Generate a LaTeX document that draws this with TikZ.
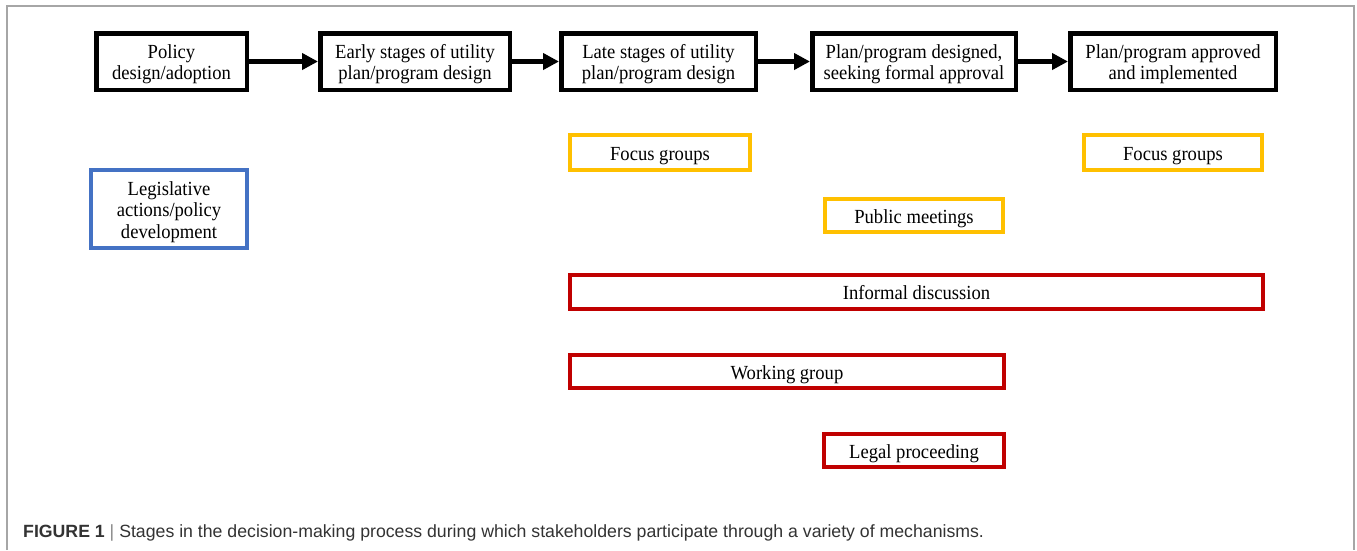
\documentclass[tikz,border=0pt]{standalone}
\usepackage{fontspec}
\setmainfont{Liberation Serif}
\newfontfamily\boxfont[FakeStretch=0.93]{Liberation Serif}
\newfontfamily\capfont{Liberation Sans}
\usetikzlibrary{arrows.meta}
\definecolor{boxyellow}{HTML}{FFC000}
\definecolor{boxred}{HTML}{C00000}
\definecolor{boxblue}{HTML}{4472C4}
\definecolor{framegrey}{HTML}{A6A6A6}
\definecolor{captext}{HTML}{333333}
\definecolor{barcol}{HTML}{888888}
\begin{document}
\begin{tikzpicture}[x=1pt,y=-1pt,
  boxtext/.style={align=center, font=\boxfont\fontsize{20}{21.5}\selectfont,
    inner sep=0pt, fill=white},
  oneline/.style={text height=20pt, text depth=4.5pt},
  twoline/.style={text height=41pt, text depth=4.5pt},
  threeline/.style={text height=62.5pt, text depth=4.5pt},
  stagebox/.style={boxtext, twoline, draw=black, line width=4.5pt},
  mechbox/.style={boxtext, line width=4pt},
  yellowbox/.style={mechbox, oneline, draw=boxyellow},
  redbox/.style={mechbox, oneline, draw=boxred},
  bluebox/.style={mechbox, threeline, draw=boxblue},
  stagearrow/.style={draw=black, line width=5pt, -{Triangle[length=16pt,width=16pt]}},
  frameline/.style={draw=framegrey, line width=1.5pt}
]
\useasboundingbox (0,0) rectangle (1357,550);
\fill[white] (0,0) rectangle (1357,550);
\draw[frameline] (7,550) -- (7,6) -- (1354,6) -- (1354,550);

% stages
\node[stagebox, minimum width=150.5pt, minimum height=56.5pt] (s1) at (171.5,61.5) {Policy\\design/adoption};
\node[stagebox, minimum width=189.5pt, minimum height=56.5pt] (s2) at (415,61.5) {Early stages of utility\\plan/program design};
\node[stagebox, minimum width=194.5pt, minimum height=56.5pt] (s3) at (658.5,61.5) {Late stages of utility\\plan/program design};
\node[stagebox, minimum width=203.5pt, minimum height=56.5pt] (s4) at (914,61.5) {Plan/program designed,\\seeking formal approval};
\node[stagebox, minimum width=205.5pt, minimum height=56.5pt] (s5) at (1173,61.5) {Plan/program approved\\and implemented};

\draw[stagearrow] (s1) -- (s2);
\draw[stagearrow] (s2) -- (s3);
\draw[stagearrow] (s3) -- (s4);
\draw[stagearrow] (s4) -- (s5);

% mechanisms
\node[yellowbox, minimum width=180pt, minimum height=35pt] (fg1) at (660,152.5) {Focus groups};
\node[yellowbox, minimum width=178pt, minimum height=35pt] (fg2) at (1173,152.5) {Focus groups};
\node[yellowbox, minimum width=178pt, minimum height=33pt] (pm) at (914,215.5) {Public meetings};
\node[bluebox, minimum width=156pt, minimum height=78pt] (leg) at (169,209) {Legislative\\actions/policy\\development};
\node[redbox, minimum width=693pt, minimum height=34pt] (inf) at (916.5,292) {Informal discussion};
\node[redbox, minimum width=434pt, minimum height=33pt] (wg) at (787,371.5) {Working group};
\node[redbox, minimum width=180pt, minimum height=33pt] (lp) at (914,450.5) {Legal proceeding};

% caption
\node[anchor=base west, inner sep=0pt, text=captext,
  font=\capfont\fontsize{17.7}{20}\selectfont] (cap) at (23,537)
  {\textbf{FIGURE 1} {\color{barcol}|} Stages in the decision-making process during which stakeholders participate through a variety of mechanisms.};
\end{tikzpicture}
\end{document}
